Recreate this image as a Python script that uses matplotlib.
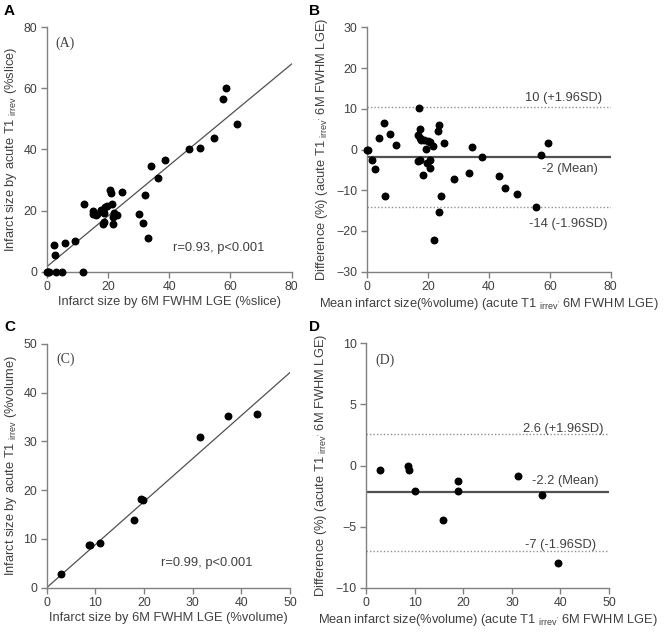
import matplotlib
matplotlib.use("Agg")
import matplotlib.pyplot as plt
import numpy as np

plt.rcParams['font.family'] = ['Liberation Sans', 'DejaVu Sans']
plt.rcParams['mathtext.fontset'] = 'custom'
plt.rcParams['mathtext.rm'] = 'Liberation Sans'
plt.rcParams['mathtext.it'] = 'Liberation Sans'

# ---------------- Data ----------------
# Panel A: slice-based infarct size
a_x = [0.0, 0.3, 0.6, 3.0, 4.9, 11.8, 2.4, 2.7, 5.9, 9.1, 12.1, 15.0, 15.1, 16.0, 16.4,
       17.7, 18.6, 19.0, 19.6, 18.3, 18.7, 20.7, 21.0, 21.3, 21.6, 21.8, 22.1, 23.1,
       24.6, 30.3, 31.4, 32.2, 33.0, 34.2, 36.5, 38.5, 46.6, 50.1, 54.7, 57.7, 58.6, 62.3]
a_y = [0.0, 0.0, 0.0, 0.0, 0.0, 0.0, 8.9, 5.5, 9.5, 10.0, 22.2, 20.0, 18.9, 18.6, 19.0,
       20.1, 19.1, 21.1, 21.5, 15.6, 16.2, 26.7, 25.6, 22.2, 18.0, 15.5, 19.1, 18.6,
       26.1, 18.8, 16.0, 25.0, 10.9, 34.7, 30.8, 36.7, 40.2, 40.6, 43.9, 56.4, 60.0, 48.5]
a_fit = [1.6, 0.83]  # intercept, slope

# Panel B: Bland-Altman (slice)
b_x = [0.0, 0.3, 1.6, 2.5, 4.0, 5.6, 6.0, 7.7, 9.4, 17.1, 17.5, 16.9, 17.3, 17.7, 16.6,
       17.5, 18.6, 19.3, 18.5, 19.8, 20.1, 20.6, 20.6, 20.8, 21.7, 21.9, 23.2, 23.6,
       23.6, 24.4, 25.3, 28.7, 33.6, 34.5, 37.8, 43.4, 45.4, 49.4, 55.4, 57.1, 59.3]
b_y = [0.0, -0.1, -2.7, -4.7, 2.9, 6.6, -11.4, 3.8, 1.0, 10.1, 5.0, 3.6, 2.9, 2.3, -2.8,
       -2.7, 2.3, 0.1, -6.3, -3.4, 2.1, 1.8, -2.6, -4.6, 0.9, -22.1, 4.6, 6.1,
       -15.3, -11.4, 1.5, -7.2, -5.7, 0.5, -1.9, -6.5, -9.5, -11.0, -14.0, -1.4, 1.5]
b_lines = [10.4, -1.9, -14.0]
b_labels = ["10 (+1.96SD)", "-2 (Mean)", "-14 (-1.96SD)"]

# Panel C: volume-based infarct size
c_x = [2.9, 8.6, 8.8, 11.0, 18.0, 19.3, 19.7, 31.5, 37.3, 43.3]
c_y = [2.9, 8.7, 8.7, 9.1, 13.8, 18.2, 17.9, 30.9, 35.1, 35.5]
c_fit = [0.0, 0.882]

# Panel D: Bland-Altman (volume)
d_x = [2.8, 8.6, 8.8, 10.0, 15.9, 18.8, 18.8, 31.2, 36.2, 39.4]
d_y = [-0.37, -0.04, -0.34, -2.1, -4.46, -1.27, -2.1, -0.89, -2.4, -8.0]
d_lines = [2.6, -2.14, -6.97]
d_labels = ["2.6 (+1.96SD)", "-2.2 (Mean)", "-7 (-1.96SD)"]

# ---------------- Style ----------------
W, H = 666, 632
fig = plt.figure(figsize=(W / 100, H / 100), dpi=100)
TXT = '#404040'
SP = '#808080'
FS = 9.3
TFS = 8.9

def px_axes(x0, y0, x1, y1):
    return fig.add_axes([x0 / W, 1 - y1 / H, (x1 - x0) / W, (y1 - y0) / H])

def style(ax):
    for s in ['top', 'right']:
        ax.spines[s].set_visible(False)
    for s in ['left', 'bottom']:
        ax.spines[s].set_color(SP)
        ax.spines[s].set_linewidth(1.0)
    ax.tick_params(direction='out', length=4, width=1, color=SP, labelsize=TFS,
                   labelcolor=TXT, pad=3)

axA = px_axes(46.7, 27.3, 291.7, 271.7)
axB = px_axes(367, 27.3, 610.7, 271.7)
axC = px_axes(46.7, 343.7, 290, 587.7)
axD = px_axes(366.3, 343.3, 609, 587.7)
for ax in (axA, axB, axC, axD):
    style(ax)

ms = 22
DOT = (0, (1, 1.5))

# Panel A
axA.scatter(a_x, a_y, s=ms, color='black', zorder=3, clip_on=False)
xx = np.array([0, 80])
axA.plot(xx, a_fit[0] + a_fit[1] * xx, color='#505050', lw=0.9)
axA.set_xlim(0, 80); axA.set_ylim(0, 80)
axA.set_xticks([0, 20, 40, 60, 80]); axA.set_yticks([0, 20, 40, 60, 80])
axA.set_xlabel("Infarct size by 6M FWHM LGE (%slice)", fontsize=FS, color=TXT)
axA.set_ylabel(r"Infarct size by acute T1 $_{\mathrm{irrev}}$ (%slice)", fontsize=FS, color=TXT)
axA.xaxis.set_label_coords(0.5, -0.10)
axA.yaxis.set_label_coords(-0.112, 0.5)
axA.text(6, 74.8, "(A)", family='Liberation Serif', fontsize=10, color=TXT, ha='center', va='center')
axA.text(56, 7.6, "r=0.93, p<0.001", fontsize=FS, color=TXT, ha='center', va='center')

# Panel B
axB.scatter(b_x, b_y, s=ms, color='black', zorder=3, clip_on=False)
axB.axhline(b_lines[1], color='#505050', lw=1.6)
axB.axhline(b_lines[0], color='#909090', lw=1.0, ls=DOT)
axB.axhline(b_lines[2], color='#909090', lw=1.0, ls=DOT)
axB.set_xlim(0, 80); axB.set_ylim(-30, 30)
axB.set_xticks([0, 20, 40, 60, 80]); axB.set_yticks([-30, -20, -10, 0, 10, 20, 30])
axB.text(64.4, 12.6, b_labels[0], fontsize=FS, color=TXT, ha='center', va='center')
axB.text(66.5, -4.8, b_labels[1], fontsize=FS, color=TXT, ha='center', va='center')
axB.text(66.0, -18.3, b_labels[2], fontsize=FS, color=TXT, ha='center', va='center')
axB.set_xlabel(r"Mean infarct size(%volume) (acute T1 $_{\mathrm{irrev'}}$ 6M FWHM LGE)", fontsize=FS, color=TXT)
axB.set_ylabel(r"Difference (%) (acute T1 $_{\mathrm{irrev'}}$ 6M FWHM LGE)", fontsize=FS, color=TXT)
axB.xaxis.set_label_coords(0.5, -0.10)
axB.yaxis.set_label_coords(-0.152, 0.5)

# Panel C
axC.scatter(c_x, c_y, s=ms, color='black', zorder=3, clip_on=False)
xx = np.array([0, 50])
axC.plot(xx, c_fit[0] + c_fit[1] * xx, color='#505050', lw=0.9)
axC.set_xlim(0, 50); axC.set_ylim(0, 50)
axC.set_xticks([0, 10, 20, 30, 40, 50]); axC.set_yticks([0, 10, 20, 30, 40, 50])
axC.set_xlabel("Infarct size by 6M FWHM LGE (%volume)", fontsize=FS, color=TXT)
axC.set_ylabel(r"Infarct size by acute T1 $_{\mathrm{irrev}}$ (%volume)", fontsize=FS, color=TXT)
axC.xaxis.set_label_coords(0.5, -0.10)
axC.yaxis.set_label_coords(-0.112, 0.5)
axC.text(3.8, 46.8, "(C)", family='Liberation Serif', fontsize=10, color=TXT, ha='center', va='center')
axC.text(32.9, 5.1, "r=0.99, p<0.001", fontsize=FS, color=TXT, ha='center', va='center')

# Panel D
axD.scatter(d_x, d_y, s=ms, color='black', zorder=3, clip_on=False)
axD.axhline(d_lines[1], color='#505050', lw=1.6)
axD.axhline(d_lines[0], color='#909090', lw=1.0, ls=DOT)
axD.axhline(d_lines[2], color='#909090', lw=1.0, ls=DOT)
axD.set_xlim(0, 50); axD.set_ylim(-10, 10)
axD.set_xticks([0, 10, 20, 30, 40, 50]); axD.set_yticks([-10, -5, 0, 5, 10])
axD.text(40.5, 3.0, d_labels[0], fontsize=FS, color=TXT, ha='center', va='center')
axD.text(41.0, -1.3, d_labels[1], fontsize=FS, color=TXT, ha='center', va='center')
axD.text(40.0, -6.5, d_labels[2], fontsize=FS, color=TXT, ha='center', va='center')
axD.text(3.8, 8.6, "(D)", family='Liberation Serif', fontsize=10, color=TXT, ha='center', va='center')
axD.set_xlabel(r"Mean infarct size(%volume) (acute T1 $_{\mathrm{irrev'}}$ 6M FWHM LGE)", fontsize=FS, color=TXT)
axD.set_ylabel(r"Difference (%) (acute T1 $_{\mathrm{irrev'}}$ 6M FWHM LGE)", fontsize=FS, color=TXT)
axD.xaxis.set_label_coords(0.5, -0.10)
axD.yaxis.set_label_coords(-0.152, 0.5)

# Panel letters
for lab, (x, y) in zip("ABCD", [(4, 4), (309, 4), (4, 320), (309, 320)]):
    fig.text(x / W, 1 - y / H, lab, fontsize=11, fontweight='bold', ha='left', va='top', color='black')

fig.savefig("out.png", dpi=100)
